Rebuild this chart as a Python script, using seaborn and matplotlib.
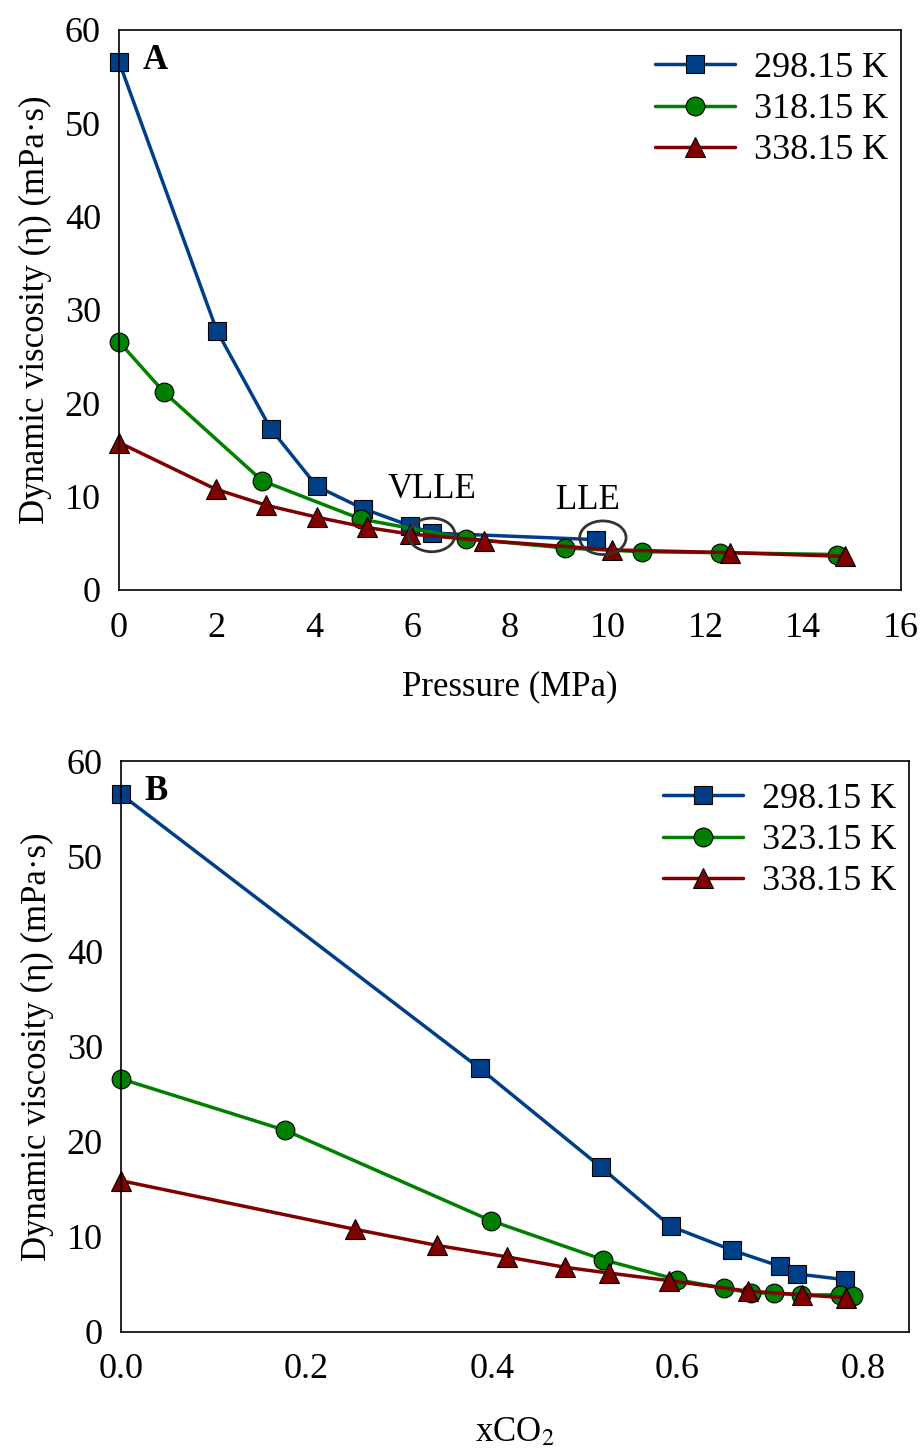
import numpy as np
import pandas as pd
import matplotlib
matplotlib.use("Agg")
import matplotlib.pyplot as plt
from matplotlib.patches import Ellipse
import seaborn as sns

# Panel A: viscosity vs pressure
p_298 = [0, 2.0, 3.1, 4.05, 5.0, 5.95, 6.4, 9.75]
eta_298 = [56.6, 27.8, 17.3, 11.1, 8.7, 6.9, 6.1, 5.4]
p_318 = [0, 0.92, 2.93, 4.95, 7.1, 9.12, 10.7, 12.3, 14.7]
eta_318 = [26.6, 21.2, 11.7, 7.6, 5.5, 4.5, 4.1, 4.0, 3.8]
p_338 = [0, 1.98, 3.0, 4.05, 5.07, 5.95, 7.46, 10.08, 12.5, 14.85]
eta_338 = [15.8, 10.8, 9.1, 7.8, 6.7, 6.0, 5.3, 4.3, 4.0, 3.6]

# Panel B: viscosity vs CO2 mole fraction
x_298 = [0, 0.387, 0.518, 0.593, 0.659, 0.711, 0.729, 0.781]
xeta_298 = [56.5, 27.7, 17.3, 11.1, 8.6, 6.9, 6.1, 5.5]
x_323 = [0, 0.177, 0.399, 0.52, 0.6, 0.65, 0.68, 0.704, 0.734, 0.776, 0.79]
xeta_323 = [26.6, 21.2, 11.7, 7.6, 5.5, 4.6, 4.1, 4.1, 3.9, 3.9, 3.8]
x_338 = [0, 0.252, 0.341, 0.416, 0.479, 0.526, 0.591, 0.676, 0.735, 0.782]
xeta_338 = [15.9, 10.8, 9.1, 7.9, 6.8, 6.2, 5.4, 4.3, 3.9, 3.6]

labels_a = ["298.15 K", "318.15 K", "338.15 K"]
labels_b = ["298.15 K", "323.15 K", "338.15 K"]

sns.set_style("white")
plt.rcParams["font.family"] = ["Liberation Serif", "DejaVu Serif"]
plt.rcParams["mathtext.fontset"] = "stix"
plt.rcParams["text.color"] = "black"
plt.rcParams["axes.labelcolor"] = "black"
plt.rcParams["xtick.color"] = "black"
plt.rcParams["ytick.color"] = "black"

colors = ["#003f87", "#008000", "#800000"]
markers = ["s", "o", "^"]
msizes = [13.5, 13.5, 14.5]

fig = plt.figure(figsize=(9.24, 14.5), dpi=100)
W, H = 924, 1450
axA = fig.add_axes([119 / W, 1 - 590 / H, (901 - 119) / W, (590 - 30) / H])
axB = fig.add_axes([121 / W, 1 - 1332 / H, (909 - 121) / W, (1332 - 761) / H])


def draw(ax, xs, ys, labels):
    for x, y, lab, c, m, ms in zip(xs, ys, labels, colors, markers, msizes):
        sns.lineplot(x=x, y=y, ax=ax, color=c, marker=m, markersize=ms,
                     markeredgecolor="black", markeredgewidth=0.8,
                     linewidth=2.5, label=lab, clip_on=False, sort=False)
    ax.legend(loc="upper right", frameon=False, fontsize=26,
              handlelength=2.2, handletextpad=0.55, labelspacing=0.22,
              borderaxespad=0.2, bbox_to_anchor=(1.012, 1.0))
    ax.set_ylim(0, 60)
    ax.set_yticks(range(0, 61, 10))
    ax.tick_params(direction="in", length=7, width=1, labelsize=26,
                   top=False, right=False)
    ax.tick_params(axis="y", pad=13)
    for s in ax.spines.values():
        s.set_linewidth(1.2)
        s.set_color("black")
    ax.set_ylabel("Dynamic viscosity (η) (mPa·s)", fontsize=25, labelpad=9)


draw(axA, [p_298, p_318, p_338], [eta_298, eta_318, eta_338], labels_a)
axA.set_xlim(0, 16)
axA.set_xticks(range(0, 17, 2))
axA.tick_params(axis="x", pad=16)
axA.set_xlabel("Pressure (MPa)", fontsize=25, labelpad=18)
axA.text(0.03, 0.975, "A", transform=axA.transAxes, fontsize=25,
         fontweight="bold", va="top", ha="left")
axA.text(6.4, 9.0, "VLLE", fontsize=25, ha="center", va="bottom")
axA.text(9.6, 7.8, "LLE", fontsize=25, ha="center", va="bottom")
for cx, cy in [(6.4, 5.9), (9.9, 5.6)]:
    axA.add_patch(Ellipse((cx, cy), 0.95, 3.6, fill=False,
                          edgecolor="#333333", linewidth=2, zorder=5))

draw(axB, [x_298, x_323, x_338], [xeta_298, xeta_323, xeta_338], labels_b)
axB.set_xlim(0, 0.85)
axB.set_xticks([0, 0.2, 0.4, 0.6, 0.8])
axB.set_xticklabels(["0.0", "0.2", "0.4", "0.6", "0.8"])
axB.tick_params(axis="x", pad=15)
axB.set_xlabel("xCO$_2$", fontsize=25, labelpad=22)
axB.text(0.03, 0.975, "B", transform=axB.transAxes, fontsize=25,
         fontweight="bold", va="top", ha="left")

fig.savefig("out.png", dpi=100)
